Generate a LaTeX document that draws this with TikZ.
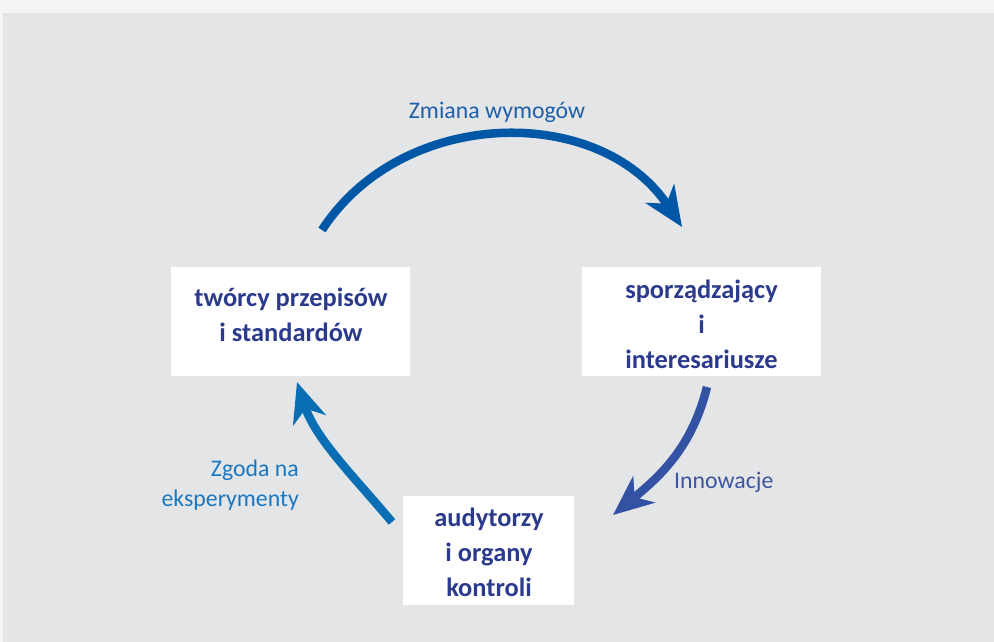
\documentclass[tikz,border=0pt]{standalone}
\usepackage{fontspec}
\setmainfont{Carlito}
\usetikzlibrary{arrows.meta}
\definecolor{outerbg}{HTML}{F4F5F7}
\definecolor{innerbg}{HTML}{E4E5E7}
\definecolor{boxtxt}{HTML}{2B3A8C}
\definecolor{arrA}{HTML}{0057A6}
\definecolor{arrB}{HTML}{3352A3}
\definecolor{arrC}{HTML}{0A6EB4}
\definecolor{labA}{HTML}{1D5FA8}
\definecolor{labB}{HTML}{3D55A0}
\definecolor{labC}{HTML}{1A78C2}
\tikzset{
  box/.style={draw=none, fill=white, minimum width=239pt, minimum height=109pt, inner sep=0pt},
  boxtext/.style={text=boxtxt, font=\fontsize{26.4}{35}\selectfont\bfseries, align=center, inner sep=0pt},
  lbl/.style={font=\fontsize{23.8}{30}\selectfont, inner sep=0pt},
  cyc/.style={line width=8.5pt, -{Stealth[length=40pt, width=34pt, inset=12pt]}}
}
\begin{document}
\begin{tikzpicture}[x=1pt, y=-1pt]
\useasboundingbox (0,0) rectangle (994,642);
\fill[outerbg] (0,0) rectangle (994,642);
\fill[innerbg] (3,13) rectangle (994,642);
% boxes
\node[box] (left) at (290.5,321.5) {};
\node[boxtext] (lefttext) at (291,315) {twórcy przepisów\\i standardów};
\node[box] (right) at (701.5,321.5) {};
\node[boxtext] (righttext) at (701.5,324) {sporządzający\\i\\interesariusze};
\node[box, minimum width=171pt] (bottom) at (488.5,550.5) {};
\node[boxtext] (bottomtext) at (489,552) {audytorzy\\i organy\\kontroli};
% arrow coordinates
\coordinate (a1) at (322,230);
\coordinate (a2) at (682,227);
\coordinate (b1) at (707,387);
\coordinate (b2) at (613,515);
\coordinate (c1) at (392,522);
\coordinate (c2) at (297,382);
\draw[cyc, arrA] (a1) to[out=57, in=123.5, looseness=1.05] (a2);
\draw[cyc, arrB] (b1) to[out=256, in=39.5] (b2);
\draw[cyc, arrC] (c1) to[out=130, in=-72, looseness=0.9] (c2);
% labels
\node[lbl, text=labA] (la) at (497,112) {Zmiana wymogów};
\node[lbl, text=labB, anchor=west] (lb) at (674,482) {Innowacje};
\node[lbl, text=labC, align=right, anchor=east] (lc) at (299,485) {Zgoda na\\eksperymenty};
\end{tikzpicture}
\end{document}
